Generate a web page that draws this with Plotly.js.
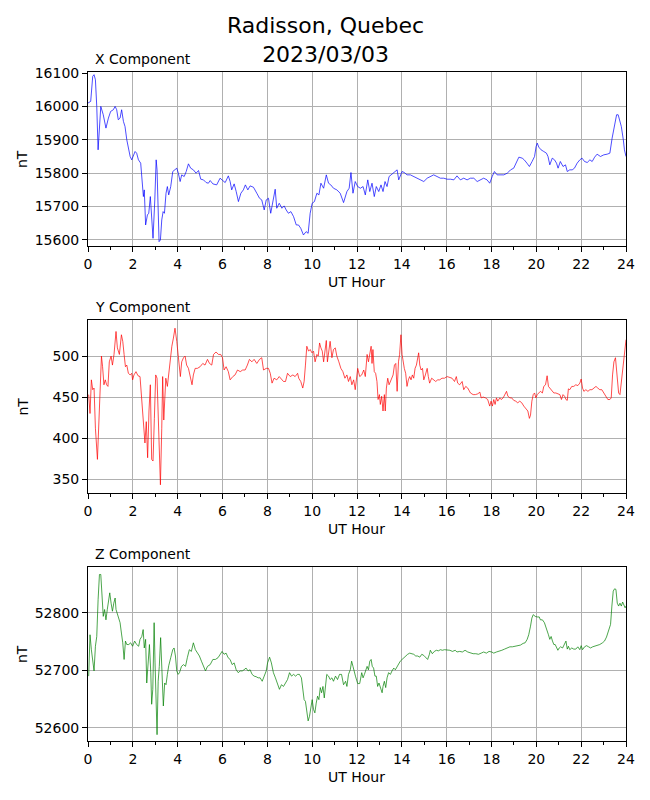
<!DOCTYPE html>
<html>
<head>
<meta charset="utf-8">
<script src="https://cdn.plot.ly/plotly-3.0.1.min.js"></script>
<style>
  html, body { margin: 0; padding: 0; background: #fff; }
  #chart { width: 650px; height: 800px; }
</style>
</head>
<body>
<div id="chart"></div>
<script>
// values, UT hour vs nT
const xHours = [0.00,0.12,0.21,0.27,0.33,0.39,0.45,0.51,0.57,0.68,0.80,0.91,1.01,1.13,1.21,1.28,1.35,1.43,1.50,1.58,1.65,1.73,1.80,1.88,1.95,2.02,2.10,2.17,2.25,2.35,2.41,2.47,2.51,2.57,2.65,2.71,2.78,2.84,2.90,2.98,3.04,3.08,3.13,3.17,3.23,3.29,3.35,3.41,3.48,3.54,3.60,3.69,3.78,3.88,3.96,4.03,4.11,4.18,4.29,4.38,4.48,4.58,4.70,4.82,4.93,5.03,5.15,5.27,5.37,5.45,5.57,5.74,5.89,6.01,6.12,6.26,6.34,6.41,6.52,6.61,6.71,6.82,6.93,7.02,7.13,7.23,7.38,7.53,7.65,7.75,7.86,7.95,8.05,8.15,8.24,8.35,8.42,8.53,8.65,8.75,8.84,8.94,9.05,9.17,9.29,9.39,9.49,9.61,9.73,9.82,9.91,10.00,10.10,10.21,10.30,10.39,10.51,10.63,10.73,10.83,10.95,11.10,11.25,11.40,11.55,11.65,11.73,11.82,11.92,12.03,12.15,12.27,12.37,12.48,12.57,12.67,12.77,12.86,12.97,13.07,13.16,13.25,13.34,13.43,13.52,13.61,13.71,13.79,13.86,13.93,14.01,14.11,14.23,14.38,14.53,14.68,14.83,14.98,15.13,15.27,15.42,15.57,15.72,15.87,16.02,16.17,16.32,16.46,16.61,16.76,16.91,17.06,17.21,17.36,17.51,17.65,17.80,17.92,18.03,18.13,18.25,18.40,18.55,18.70,18.85,18.99,19.10,19.22,19.37,19.46,19.58,19.69,19.81,19.92,19.99,20.04,20.11,20.21,20.33,20.45,20.52,20.60,20.71,20.81,20.90,20.97,21.07,21.19,21.30,21.38,21.49,21.60,21.70,21.82,21.94,22.04,22.15,22.27,22.39,22.49,22.60,22.71,22.86,23.01,23.16,23.28,23.38,23.49,23.58,23.65,23.71,23.79,23.88,23.93,24.00];
const xValues = [16010,16015,16090,16095,16080,16000,15870,15940,16000,15975,15935,15965,15985,15990,16000,15990,15960,15965,15990,15955,15940,15900,15870,15850,15840,15850,15865,15860,15840,15830,15790,15730,15750,15645,15675,15680,15730,15660,15605,15720,15840,15810,15640,15595,15600,15660,15685,15680,15740,15760,15735,15760,15805,15810,15815,15800,15775,15795,15790,15805,15828,15815,15810,15800,15808,15782,15780,15772,15770,15778,15768,15765,15785,15778,15772,15792,15775,15750,15768,15745,15715,15740,15750,15765,15750,15762,15758,15740,15725,15720,15690,15720,15725,15680,15710,15752,15695,15710,15695,15702,15690,15680,15685,15670,15645,15645,15635,15615,15625,15620,15680,15710,15715,15740,15735,15770,15755,15795,15770,15765,15755,15750,15740,15712,15745,15755,15802,15740,15775,15760,15755,15760,15735,15780,15745,15770,15730,15760,15745,15765,15745,15775,15760,15790,15795,15800,15805,15810,15780,15795,15805,15802,15795,15795,15790,15785,15782,15775,15785,15790,15795,15790,15785,15785,15782,15782,15780,15792,15780,15785,15780,15785,15785,15775,15780,15785,15780,15770,15790,15805,15795,15795,15795,15800,15810,15815,15830,15848,15845,15840,15830,15820,15835,15850,15880,15890,15878,15870,15865,15860,15850,15825,15845,15840,15830,15815,15835,15820,15825,15805,15810,15810,15815,15830,15840,15845,15835,15832,15840,15835,15848,15857,15850,15855,15857,15860,15905,15950,15975,15975,15960,15940,15900,15870,15850];

const yHours = [0.03,0.09,0.15,0.21,0.27,0.33,0.42,0.48,0.54,0.60,0.65,0.71,0.77,0.83,0.89,0.95,1.03,1.09,1.16,1.25,1.31,1.40,1.49,1.55,1.61,1.67,1.73,1.80,1.88,1.95,1.99,2.05,2.14,2.23,2.32,2.38,2.44,2.50,2.54,2.60,2.66,2.72,2.78,2.84,2.90,2.96,3.02,3.08,3.13,3.18,3.23,3.29,3.33,3.38,3.42,3.47,3.54,3.60,3.66,3.74,3.81,3.88,3.96,4.03,4.08,4.12,4.18,4.26,4.33,4.40,4.48,4.55,4.64,4.70,4.78,4.88,5.00,5.12,5.22,5.33,5.42,5.52,5.60,5.71,5.82,5.92,6.00,6.07,6.16,6.26,6.34,6.46,6.56,6.67,6.79,6.90,7.01,7.11,7.20,7.31,7.41,7.53,7.65,7.75,7.83,7.95,8.05,8.13,8.21,8.30,8.42,8.53,8.63,8.72,8.81,8.90,9.02,9.14,9.24,9.35,9.40,9.49,9.58,9.64,9.70,9.76,9.84,9.91,9.99,10.06,10.13,10.21,10.27,10.33,10.39,10.45,10.51,10.57,10.63,10.68,10.74,10.80,10.88,10.95,11.03,11.10,11.19,11.28,11.37,11.46,11.55,11.62,11.70,11.77,11.85,11.92,12.03,12.12,12.21,12.30,12.37,12.45,12.51,12.57,12.63,12.67,12.71,12.77,12.83,12.89,12.94,13.00,13.04,13.10,13.16,13.22,13.26,13.31,13.37,13.43,13.49,13.55,13.61,13.67,13.73,13.79,13.85,13.90,13.96,14.01,14.05,14.11,14.17,14.23,14.29,14.35,14.41,14.47,14.53,14.59,14.65,14.71,14.75,14.80,14.86,14.92,14.98,15.05,15.13,15.18,15.24,15.33,15.42,15.51,15.60,15.69,15.79,15.90,16.02,16.14,16.24,16.35,16.43,16.49,16.58,16.69,16.76,16.85,16.94,17.06,17.18,17.28,17.39,17.48,17.54,17.63,17.73,17.83,17.92,17.98,18.04,18.10,18.16,18.22,18.28,18.37,18.43,18.52,18.61,18.67,18.73,18.82,18.90,18.99,19.08,19.17,19.26,19.35,19.44,19.53,19.62,19.69,19.74,19.80,19.86,19.92,19.98,20.04,20.11,20.18,20.27,20.33,20.41,20.48,20.54,20.60,20.69,20.78,20.87,20.96,21.05,21.12,21.19,21.26,21.32,21.38,21.43,21.49,21.58,21.67,21.76,21.85,21.94,22.00,22.06,22.12,22.21,22.30,22.39,22.48,22.57,22.66,22.74,22.83,22.92,23.01,23.10,23.19,23.28,23.34,23.40,23.46,23.53,23.61,23.67,23.73,23.79,23.85,23.90,23.96,24.00];
const yValues = [453,430,471,459,461,412,374,416,465,500,487,465,471,465,463,493,500,489,502,530,510,502,526,518,502,487,489,479,477,479,471,477,481,476,475,453,426,414,394,420,376,433,465,374,372,424,477,473,426,386,343,412,475,422,455,473,463,477,498,512,522,534,518,502,491,475,493,498,500,489,485,477,465,477,485,485,487,491,489,496,491,489,502,505,502,502,498,483,487,481,471,475,477,483,481,483,483,489,496,493,496,491,496,498,483,485,485,479,467,473,471,475,471,469,469,479,475,477,475,479,473,469,461,469,489,512,506,508,504,506,493,502,500,516,510,506,493,510,519,493,506,518,498,508,510,500,493,485,481,473,477,469,475,465,471,459,485,475,477,483,475,502,493,502,512,491,508,481,479,469,447,453,441,451,433,453,433,461,473,465,469,475,477,489,491,457,493,502,526,502,493,485,479,463,471,475,471,477,473,485,489,500,504,489,483,485,471,477,485,475,467,473,471,469,471,471,473,473,475,474,473,469,475,467,465,469,459,463,461,455,453,453,454,456,449,450,449,447,439,445,439,447,441,449,445,449,447,449,455,457,451,449,449,446,445,443,445,443,439,436,433,424,428,445,453,455,449,453,455,457,455,463,465,476,463,461,459,455,455,454,453,447,453,451,447,446,460,459,463,463,465,464,467,472,461,457,459,457,459,459,461,463,461,459,459,455,451,447,447,449,477,493,498,477,455,453,469,485,502,514,520];

const zHours = [0.03,0.09,0.15,0.21,0.27,0.33,0.39,0.45,0.51,0.57,0.63,0.68,0.74,0.80,0.86,0.92,0.97,1.03,1.09,1.15,1.21,1.25,1.31,1.38,1.43,1.49,1.55,1.61,1.67,1.73,1.82,1.90,1.99,2.08,2.17,2.26,2.32,2.40,2.46,2.51,2.57,2.62,2.68,2.74,2.80,2.84,2.89,2.95,2.99,3.04,3.08,3.13,3.18,3.24,3.30,3.36,3.42,3.48,3.54,3.60,3.69,3.78,3.84,3.90,3.96,4.02,4.08,4.17,4.26,4.35,4.43,4.52,4.61,4.70,4.79,4.88,4.97,5.06,5.15,5.24,5.33,5.45,5.57,5.68,5.80,5.89,5.98,6.07,6.16,6.25,6.34,6.43,6.52,6.61,6.70,6.79,6.88,6.96,7.05,7.14,7.23,7.32,7.41,7.50,7.59,7.68,7.77,7.86,7.95,8.01,8.10,8.18,8.27,8.36,8.45,8.54,8.63,8.72,8.81,8.90,8.99,9.08,9.17,9.26,9.35,9.43,9.52,9.58,9.64,9.70,9.76,9.82,9.88,9.94,10.00,10.06,10.12,10.18,10.24,10.30,10.36,10.42,10.48,10.54,10.60,10.65,10.73,10.80,10.88,10.95,11.04,11.13,11.22,11.31,11.40,11.49,11.55,11.62,11.70,11.76,11.82,11.88,11.93,12.03,12.12,12.21,12.27,12.33,12.39,12.45,12.51,12.57,12.63,12.68,12.74,12.80,12.86,12.92,12.98,13.04,13.12,13.16,13.22,13.28,13.34,13.41,13.49,13.56,13.64,13.71,13.79,13.86,13.93,14.01,14.08,14.17,14.26,14.35,14.44,14.53,14.62,14.71,14.80,14.89,14.98,15.07,15.15,15.23,15.27,15.36,15.45,15.54,15.63,15.72,15.81,15.90,16.02,16.14,16.26,16.38,16.46,16.58,16.70,16.82,16.94,17.06,17.18,17.30,17.42,17.54,17.65,17.77,17.89,18.01,18.10,18.22,18.34,18.46,18.58,18.70,18.82,18.93,19.05,19.17,19.29,19.41,19.50,19.59,19.66,19.74,19.80,19.86,19.95,20.04,20.13,20.18,20.27,20.36,20.42,20.48,20.54,20.60,20.66,20.72,20.78,20.84,20.90,20.96,21.02,21.08,21.17,21.26,21.32,21.38,21.43,21.49,21.58,21.67,21.76,21.85,21.94,22.00,22.06,22.15,22.24,22.33,22.42,22.51,22.60,22.71,22.83,22.95,23.04,23.13,23.22,23.31,23.37,23.43,23.49,23.55,23.61,23.67,23.73,23.79,23.85,23.90,23.96,24.00];
const zValues = [52690,52762,52736,52713,52699,52742,52759,52823,52867,52867,52829,52794,52806,52788,52806,52820,52835,52817,52803,52817,52826,52806,52797,52791,52783,52765,52748,52719,52751,52745,52745,52748,52742,52751,52745,52742,52754,52759,52771,52739,52754,52678,52713,52745,52696,52641,52667,52783,52713,52649,52588,52681,52707,52757,52696,52638,52678,52675,52693,52708,52722,52736,52739,52725,52699,52693,52696,52707,52710,52707,52722,52736,52733,52748,52736,52730,52725,52716,52707,52699,52707,52710,52719,52719,52722,52728,52733,52728,52730,52722,52719,52710,52713,52701,52696,52699,52699,52701,52704,52699,52701,52693,52690,52689,52687,52687,52681,52690,52699,52713,52723,52713,52696,52687,52678,52667,52675,52672,52678,52684,52696,52690,52693,52690,52693,52693,52687,52670,52649,52646,52626,52612,52620,52638,52649,52632,52626,52643,52655,52649,52670,52661,52672,52652,52681,52693,52690,52684,52687,52681,52690,52684,52693,52693,52675,52681,52672,52693,52701,52716,52707,52696,52690,52677,52677,52696,52687,52693,52699,52707,52701,52716,52719,52707,52704,52690,52690,52672,52678,52670,52661,52672,52681,52670,52687,52696,52693,52699,52704,52701,52707,52713,52716,52719,52722,52725,52728,52730,52729,52728,52725,52725,52723,52728,52726,52723,52719,52728,52735,52729,52733,52735,52734,52736,52735,52736,52736,52735,52733,52735,52732,52733,52732,52735,52732,52730,52729,52729,52728,52730,52732,52730,52733,52732,52730,52732,52733,52735,52737,52739,52741,52741,52742,52743,52744,52747,52748,52754,52762,52777,52791,52797,52794,52793,52793,52788,52788,52783,52777,52768,52762,52754,52759,52751,52745,52745,52741,52735,52739,52741,52739,52745,52751,52737,52742,52736,52739,52737,52737,52741,52736,52743,52736,52741,52743,52741,52739,52741,52742,52743,52745,52748,52751,52758,52768,52780,52812,52838,52842,52841,52817,52812,52817,52812,52819,52813,52809,52812];

const hourTicks = [0,2,4,6,8,10,12,14,16,18,20,22,24];

const FONT = 'DejaVu Sans, Liberation Sans, sans-serif';
const panels = [
  { name: 'X Component', hours: xHours, values: xValues, color: '#0000ff', range: [15582, 16103], dtick: 100, dom: [0.6925, 0.91] },
  { name: 'Y Component', hours: yHours, values: yValues, color: '#ff0000', range: [333, 544], dtick: 50, dom: [0.38375, 0.6] },
  { name: 'Z Component', hours: zHours, values: zValues, color: '#008000', range: [52577, 52880], dtick: 100, dom: [0.07375, 0.29125] }
];

const traces = [];
const layout = {
  width: 650, height: 800,
  margin: { l: 0, r: 0, t: 0, b: 0 },
  paper_bgcolor: '#ffffff', plot_bgcolor: '#ffffff',
  showlegend: false,
  font: { family: FONT, size: 14, color: '#000' },
  annotations: [
    // main title, two lines
    { text: 'Radisson, Quebec<br>2023/03/03', xref: 'paper', yref: 'paper', x: 0.5, y: 0.9494, xanchor: 'center', yanchor: 'middle',
      showarrow: false, font: { family: FONT, size: 22, color: '#000' } }
  ]
};

panels.forEach(function(p, i){
  const n = i === 0 ? '' : String(i + 1);
  traces.push({ type: 'scatter', mode: 'lines', x: p.hours, y: p.values, xaxis: 'x' + n, yaxis: 'y' + n,
    line: { color: p.color, width: 0.7 }, hoverinfo: 'skip' });
  const common = { showline: true, mirror: true, linecolor: '#000', linewidth: 1, ticks: 'outside', ticklen: 5, tickcolor: '#000',
    showgrid: true, gridcolor: '#b0b0b0', gridwidth: 1, zeroline: false, tickfont: { family: FONT, size: 14, color: '#000' } };
  layout['xaxis' + n] = Object.assign({}, common, { domain: [0.1354, 0.9631], anchor: 'y' + n, range: [0, 24],
    tickvals: hourTicks, ticktext: hourTicks.map(String),
    minor: { dtick: 1, ticks: 'outside', ticklen: 3, tickcolor: '#000', showgrid: false } });
  layout['yaxis' + n] = Object.assign({}, common, { domain: p.dom, anchor: 'x' + n, range: p.range, dtick: p.dtick, tickformat: 'd' });
  const top = p.dom[1], bot = p.dom[0], mid = (top + bot) / 2;
  layout.annotations.push(
    { text: p.name, xref: 'paper', yref: 'paper', x: 0.143, y: top + 0.016, xanchor: 'left', yanchor: 'middle', showarrow: false, font: { family: FONT, size: 14 } },
    { text: 'nT', xref: 'paper', yref: 'paper', x: 0.034, y: mid, xanchor: 'center', yanchor: 'middle', textangle: -90, showarrow: false, font: { family: FONT, size: 14 } },
    { text: 'UT Hour', xref: 'paper', yref: 'paper', x: 0.5492, y: bot - 0.045, xanchor: 'center', yanchor: 'middle', showarrow: false, font: { family: FONT, size: 14 } }
  );
});

Plotly.newPlot('chart', traces, layout, { displayModeBar: false, staticPlot: true });
</script>
</body>
</html>
